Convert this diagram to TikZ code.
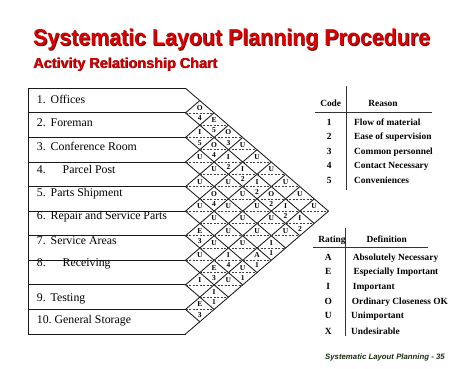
\documentclass[tikz,border=0pt]{standalone}
\usepackage{fontspec}
\setmainfont{Liberation Serif}
\newfontfamily\arialf{Liberation Sans}
\definecolor{titlered}{RGB}{222,0,0}
\definecolor{shadowc}{RGB}{70,10,10}
\definecolor{footc}{RGB}{25,45,20}
\begin{document}
\begin{tikzpicture}[x=1pt,y=-1pt,
  gridln/.style={line width=0.85pt, black!90},
  dashln/.style={dash pattern=on 2pt off 1.5pt, line width=0.55pt, black!75},
  lbl/.style={anchor=base west, inner sep=0pt, font=\fontsize{11.8}{12}\selectfont},
  cell/.style={inner sep=0pt, font=\bfseries\fontsize{7.5}{7.5}\selectfont},
  tabtxt/.style={inner sep=0pt, anchor=base west, font=\bfseries\fontsize{9.4}{10}\selectfont},
  tabctr/.style={inner sep=0pt, anchor=base, font=\bfseries\fontsize{9.4}{10}\selectfont},
  tabln/.style={line width=0.7pt, black!80},
]
\useasboundingbox (0,0) rectangle (474,368);
\fill[white] (0,0) rectangle (474,368);
% titles
\node[anchor=base west, inner sep=0pt, text=shadowc] (titlesh) at (33.9,46.6)
  {\scalebox{0.93}[1]{\arialf\bfseries\fontsize{23}{24}\selectfont Systematic Layout Planning Procedure}};
\node[anchor=base west, inner sep=0pt, text=titlered] (title) at (33,45.7)
  {\scalebox{0.93}[1]{\arialf\bfseries\fontsize{23}{24}\selectfont Systematic Layout Planning Procedure}};
\node[anchor=base west, inner sep=0pt, text=shadowc] (subsh) at (33.7,68.9)
  {\arialf\bfseries\fontsize{14.4}{15}\selectfont Activity Relationship Chart};
\node[anchor=base west, inner sep=0pt, text=titlered] (sub) at (33,68.2)
  {\arialf\bfseries\fontsize{14.4}{15}\selectfont Activity Relationship Chart};
% chart geometry
\def\xo{185.5}\def\wh{14.3}\def\yo{88.3}\def\rh{24.57}\def\hh{12.285}
\draw[gridln] (28,\yo) -- (28,{\yo+10*\rh});
\foreach \k in {0,...,10} \draw[gridln] (28,{\yo+\k*\rh}) -- (\xo,{\yo+\k*\rh});
\foreach \k in {0,...,9} \draw[gridln] (\xo,{\yo+\k*\rh}) -- ++({(10-\k)*\wh},{(10-\k)*\hh});
\foreach \k in {1,...,10} \draw[gridln] (\xo,{\yo+\k*\rh}) -- ++({\k*\wh},{-\k*\hh});
\foreach \i [evaluate=\i as \ip using int(\i+1)] in {1,...,9}{
  \foreach \j in {\ip,...,10}{
    \draw[dashln] ({\xo+(\j-\i-1)*\wh},{\yo+\rh*((\i+\j)/2-0.5)}) -- ++({2*\wh},0);
  }
}
\foreach \i/\j/\L/\N in {1/2/O/4,1/3/E/5,1/4/O/3,1/5/U/,1/6/U/,1/7/U/,1/8/U/,1/9/U/,1/10/U/,
  2/3/I/5,2/4/O/4,2/5/I/2,2/6/I/2,2/7/I/2,2/8/O/2,2/9/I/2,2/10/I/2,
  3/4/U/,3/5/U/,3/6/U/,3/7/U/,3/8/U/,3/9/U/,3/10/U/,
  4/5/U/,4/6/O/4,4/7/U/,4/8/U/,4/9/U/,4/10/I/1,
  5/6/U/,5/7/U/,5/8/U/,5/9/U/,5/10/A/1,
  6/7/E/3,6/8/U/,6/9/I/4,6/10/U/1,
  7/8/U/,7/9/E/3,7/10/U/,
  8/9/I/,8/10/I/1,
  9/10/E/3}{
  \node[cell] (L\i-\j) at ({\xo+(\j-\i)*\wh},{\yo+\rh*((\i+\j)/2-0.5)-5}) {\L};
  \node[cell] (N\i-\j) at ({\xo+(\j-\i)*\wh},{\yo+\rh*((\i+\j)/2-0.5)+5.2}) {\N};
}
% row labels
\node[lbl] (r1) at (36.7,103) {1.\hspace{5pt}Offices};
\node[lbl] (r2) at (36.7,126.5) {2.\hspace{5pt}Foreman};
\node[lbl] (r3) at (36.7,150) {3.\hspace{5pt}Conference Room};
\node[lbl] (r4) at (36.7,173) {4.\hspace{17pt}Parcel Post};
\node[lbl] (r5) at (36.7,196.5) {5.\hspace{5pt}Parts Shipment};
\node[lbl] (r6) at (36.7,219) {6.\hspace{5pt}Repair and Service Parts};
\node[lbl] (r7) at (36.7,244) {7.\hspace{5pt}Service Areas};
\node[lbl] (r8) at (36.7,266.5) {8.\hspace{17pt}Receiving};
\node[lbl] (r9) at (36.7,301) {9.\hspace{5pt}Testing};
\node[lbl] (r10) at (36.7,323) {10.\hspace{3pt}General Storage};
% code table
\draw[tabln] (346.7,86) -- (346.7,190);
\draw[tabln] (315,112.3) -- (431.7,112.3);
\node[tabctr] (hcode) at (330.7,106.5) {Code};
\node[tabctr] (hreason) at (383,106.5) {Reason};
\foreach \n/\t/\y in {1/Flow of material/125,2/Ease of supervision/139.5,3/Common personnel/154.5,4/Contact Necessary/168.8,5/Conveniences/183.5}{
  \node[tabctr] (cn\n) at (329.3,\y) {\n};
  \node[tabtxt] (ct\n) at (354,\y) {\t};
}
% rating table
\draw[tabln] (345,228) -- (345,336);
\draw[tabln] (312.7,247.7) -- (428.3,247.7);
\node[tabctr] (hrating) at (332,242.5) {Rating};
\node[tabctr] (hdef) at (386.7,242.5) {Definition};
\foreach \n/\t/\y/\x in {A/Absolutely Necessary/260.8/352.7,E/Especially Important/274.5/353.3,I/Important/289.5/352.7,O/Ordinary Closeness OK/304.5/351.7,U/Unimportant/318.5/351,X/Undesirable/334.5/351}{
  \node[tabctr] (rn\n) at (328.3,\y) {\n};
  \node[tabtxt] (rt\n) at (\x,\y) {\t};
}
% footer
\node[anchor=base east, inner sep=0pt, text=footc] (foot) at (445,359.5)
  {\arialf\bfseries\itshape\fontsize{7.8}{8}\selectfont Systematic Layout Planning - 35};
\end{tikzpicture}
\end{document}
